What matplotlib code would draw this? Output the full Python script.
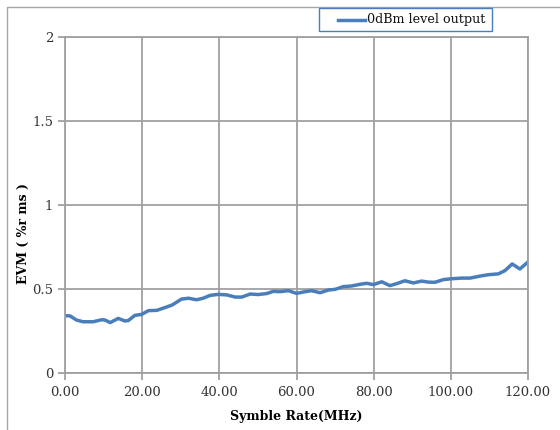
import matplotlib
matplotlib.use('Agg')
import matplotlib.pyplot as plt
from matplotlib.patches import Rectangle
from matplotlib.lines import Line2D

# symbol rate (MHz) and EVM (% rms)
rate = [0.0, 1.3, 3.0, 4.7, 7.3, 9.5, 10.4, 11.7, 13.8, 15.5, 16.4, 18.1, 19.9,
        21.6, 23.8, 25.6, 27.8, 30.2, 32.0, 34.1, 35.8, 37.6, 39.7, 41.9, 44.1,
        45.8, 48.0, 50.1, 52.3, 54.0, 55.7, 57.9, 60.0, 62.2, 63.9, 66.1, 68.3,
        70.0, 72.1, 74.3, 76.5, 78.2, 79.9, 82.1, 84.2, 86.0, 88.1, 90.3, 92.4,
        94.2, 95.9, 98.1, 100.2, 102.8, 105.0, 107.6, 109.7, 112.3, 114.0,
        115.9, 117.9, 120.0]
evm = [0.341, 0.340, 0.315, 0.305, 0.305, 0.317, 0.315, 0.300, 0.325, 0.310,
       0.312, 0.343, 0.349, 0.371, 0.373, 0.387, 0.405, 0.440, 0.445, 0.436,
       0.445, 0.462, 0.468, 0.465, 0.452, 0.452, 0.470, 0.467, 0.473, 0.486,
       0.484, 0.490, 0.474, 0.484, 0.490, 0.478, 0.494, 0.498, 0.514, 0.518,
       0.528, 0.534, 0.526, 0.543, 0.520, 0.532, 0.549, 0.536, 0.547, 0.541,
       0.540, 0.556, 0.561, 0.565, 0.565, 0.577, 0.585, 0.590, 0.609, 0.649,
       0.619, 0.661]

x_ticks = [0, 20, 40, 60, 80, 100, 120]
y_ticks = [0, 0.5, 1, 1.5, 2]
series_name = '0dBm level output'

plt.rcParams['font.family'] = ['DejaVu Serif']
W, H = 560, 430
blue = '#4a7ebb'

fig = plt.figure(figsize=(5.6, 4.3), dpi=100)
fig.patches.append(Rectangle((7 / W, -0.1), 1.2, (H - 7) / H + 0.1,
                             transform=fig.transFigure, fill=False,
                             edgecolor='#a6a6a6', linewidth=1.0))
ax = fig.add_axes([65 / W, 57 / H, 463 / W, 336 / H])

ax.plot(rate, evm, color=blue, linewidth=2.5, label=series_name)

ax.set_xlim(0, 120)
ax.set_ylim(0, 2)
ax.set_xticks(x_ticks)
ax.set_xticklabels([f'{v:.2f}' for v in x_ticks])
ax.set_yticks(y_ticks)
ax.set_yticklabels(['0', '0.5', '1', '1.5', '2'])
ax.grid(True, color='#a0a0a0', linewidth=1.3)
ax.set_axisbelow(True)
for s in ax.spines.values():
    s.set_color('#a0a0a0')
    s.set_linewidth(1.3)
ax.tick_params(axis='both', colors='#a0a0a0', length=5, width=1.3,
               labelcolor='#333333', labelsize=9.5)
ax.tick_params(axis='x', pad=4)

ax.set_xlabel('Symble Rate(MHz)', fontweight='bold', fontsize=9)
ax.xaxis.set_label_coords(0.5, -37 / 336)
ax.set_ylabel('EVM ( %r ms )', fontweight='bold', fontsize=9)
ax.yaxis.set_label_coords(-35 / 463, 0.414)

# legend box drawn by hand to match the wide padding of the original
fig.patches.append(Rectangle((319 / W, 1 - 31 / H), 173 / W, 23 / H,
                             transform=fig.transFigure, facecolor='white',
                             edgecolor=blue, linewidth=1.0))
fig.lines.append(Line2D([338 / W, 365 / W], [1 - 19.5 / H] * 2,
                        transform=fig.transFigure, color=blue, linewidth=2.5))
fig.text(367 / W, 1 - 19.5 / H, series_name, fontsize=9.2, va='center',
         ha='left', color='#111111')

fig.savefig('out.png', dpi=100)
